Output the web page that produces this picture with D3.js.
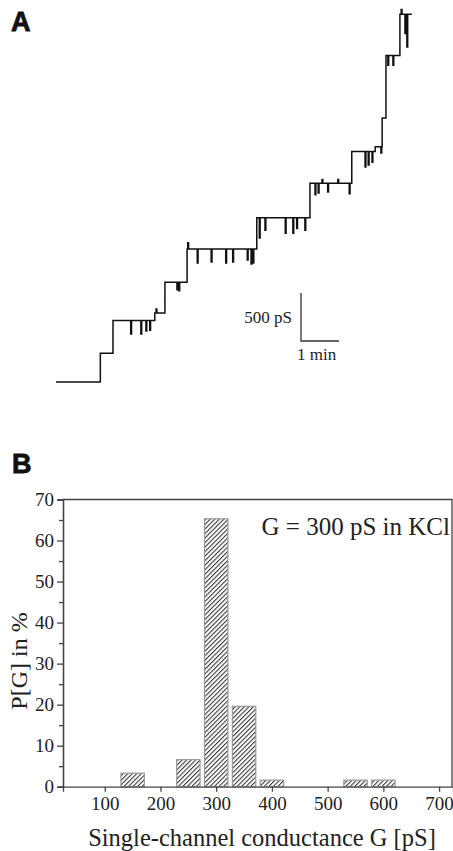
<!DOCTYPE html>
<html lang="en">
<head>
  <meta charset="utf-8">
  <title>Conductance steps and histogram</title>
  <script src="https://d3js.org/d3.v7.min.js"></script>
  <style>
    body { margin: 0; background: #fff; }
    svg text { font-family: "Liberation Serif", "Times New Roman", serif; fill: #222; }
    .panel-label { font-family: "Liberation Sans", Arial, sans-serif !important; font-weight: bold; }
  </style>
</head>
<body>
<div id="chart"></div>

<script>
// ---- panel A data: conductance trace (time in s, conductance in pS)
var stepTimes  = [0, 70, 90, 156, 172, 207, 317, 401, 467, 504, 515, 521, 543];
var stepLevels = [0, 300, 640, 720, 1040, 1385, 1710, 2070, 2400, 2450, 2750, 3400, 3830];
var traceEnd = 562;

// brief events (time in s, conductance reached in pS) - mostly closings, a few overshoots
var spikeTimes  = [118, 134, 142, 148, 158, 191, 194, 208, 223, 245, 268, 279, 302, 308, 311,
                   321, 330, 362, 374, 380, 393, 409, 414, 420, 429, 445, 463, 488, 493, 499,
                   513, 524, 532, 545, 551, 554];
var spikeBottom = [500, 500, 530, 540, 760, 960, 950, 1450, 1240, 1250, 1240, 1250, 1270, 1230, 1240,
                   1500, 1580, 1550, 1550, 1600, 1580, 1950, 1970, 2110, 1980, 2110, 1960, 2240, 2260, 2290,
                   2385, 3300, 3300, 3880, 3630, 3490];

// scale bar
var barPs = 500, barMin = 1;

// ---- panel B data: histogram of single-channel conductance
var binCenters = [150, 250, 300, 350, 400, 550, 600];
var binPercent = [3.3, 6.6, 65.3, 19.6, 1.6, 1.6, 1.6];
var xTicks = [100, 200, 300, 400, 500, 600, 700];
var yTicks = [0, 10, 20, 30, 40, 50, 60, 70];

var W = 453, H = 851;
var svg = d3.select("#chart").append("svg")
  .attr("width", W)
  .attr("height", H);

// ================= panel A =================
svg.append("text").attr("class", "panel-label")
  .attr("x", 11).attr("y", 31)
  .style("font-size", "27px")
  .style("fill", "#111")
  .style("stroke", "#111").style("stroke-width", 0.8)
  .text("A");

// 38 px per minute, 48 px per 500 pS
var tx = d3.scaleLinear().domain([0, 60]).range([56, 94]);
var gy = d3.scaleLinear().domain([0, 500]).range([382, 334]);

// build the trace point list from the steps and the brief events
var pts = [];
stepTimes.forEach(function(t0, i) {
  var lev = stepLevels[i];
  var t1 = i < stepTimes.length - 1 ? stepTimes[i + 1] : traceEnd;
  if (i > 0) pts.push([t0, stepLevels[i - 1]]);
  pts.push([t0, lev]);
  spikeTimes.forEach(function(ts, j) {
    if (ts >= t0 && ts < t1) {
      pts.push([ts, lev], [ts, spikeBottom[j]], [ts + 1.3, spikeBottom[j]], [ts + 1.3, lev]);
    }
  });
  if (i === stepTimes.length - 1) pts.push([t1, lev]);
});

var traceLine = d3.line()
  .x(function(d) { return tx(d[0]); })
  .y(function(d) { return gy(d[1]); });

svg.append("path")
  .datum(pts)
  .attr("d", traceLine)
  .attr("fill", "none")
  .attr("stroke", "#111")
  .attr("stroke-width", 1.5)
  .attr("stroke-linejoin", "miter");

// scale bar: 500 pS by 1 min
var sbX = 301, sbY = 341;
var sbW = tx(barMin * 60) - tx(0), sbH = gy(0) - gy(barPs);
svg.append("path")
  .attr("d", "M" + sbX + "," + (sbY - sbH) + "V" + sbY + "H" + (sbX + sbW))
  .attr("fill", "none")
  .attr("stroke", "#333")
  .attr("stroke-width", 1.3);
svg.append("text")
  .attr("x", sbX - 9).attr("y", sbY - 18)
  .attr("text-anchor", "end")
  .style("font-size", "17px")
  .text(barPs + " pS");
svg.append("text")
  .attr("x", sbX - 4).attr("y", sbY + 19)
  .style("font-size", "17px")
  .text(barMin + " min");

// ================= panel B =================
svg.append("text").attr("class", "panel-label")
  .attr("x", 12).attr("y", 473)
  .style("font-size", "27px")
  .style("fill", "#111")
  .style("stroke", "#111").style("stroke-width", 0.8)
  .text("B");

var x = d3.scaleLinear().domain([25, 725]).range([63, 453]);
var y = d3.scaleLinear().domain([0, 70]).range([786.7, 499.5]);

// hatch pattern for the bars
var defs = svg.append("defs");
var pat = defs.append("pattern")
  .attr("id", "hatch")
  .attr("patternUnits", "userSpaceOnUse")
  .attr("width", 3.2).attr("height", 3.2)
  .attr("patternTransform", "rotate(45)");
pat.append("rect").attr("width", 3.2).attr("height", 3.2).attr("fill", "#fff");
pat.append("line")
  .attr("x1", 0).attr("y1", 0).attr("x2", 0).attr("y2", 3.2)
  .attr("stroke", "#3a3a3a").attr("stroke-width", 2.2);

// frame (top and right)
svg.append("path")
  .attr("d", "M" + x(25) + "," + y(70) + "H" + (x(725) - 1) + "V" + y(0))
  .attr("fill", "none")
  .attr("stroke", "#444")
  .attr("stroke-width", 1.3);

// bars
var half = 21;
svg.selectAll("rect.bar")
  .data(binCenters)
  .enter()
  .append("rect")
    .attr("class", "bar")
    .attr("x", function(d) { return x(d - half); })
    .attr("width", function(d) { return x(d + half) - x(d - half); })
    .attr("y", function(d, i) { return y(binPercent[i]); })
    .attr("height", function(d, i) { return y(0) - y(binPercent[i]); })
    .attr("fill", "url(#hatch)")
    .attr("stroke", "#999")
    .attr("stroke-width", 1.2);

// x axis
var minorX = d3.range(50, 725, 50);
var xAxis = svg.append("g")
  .attr("transform", "translate(0," + y(0) + ")")
  .call(d3.axisBottom(x).tickValues(minorX).tickSize(4).tickFormat(""));
xAxis.call(d3.axisBottom(x).tickValues(xTicks).tickSize(5).tickPadding(5));
xAxis.selectAll("text").style("font-size", "19px").style("fill", "#222")
  .style("font-family", "Liberation Serif");
xAxis.selectAll("path, line").attr("stroke", "#444").attr("stroke-width", 1.3);

// y axis
var minorY = d3.range(5, 70, 10);
var yAxisG = svg.append("g")
  .attr("transform", "translate(" + x(25) + ",0)");
yAxisG.append("g").call(d3.axisLeft(y).tickValues(minorY).tickSize(4).tickFormat(""));
yAxisG.append("g").call(d3.axisLeft(y).tickValues(yTicks).tickSize(6).tickPadding(3));
yAxisG.selectAll("text").style("font-size", "19px").style("fill", "#222")
  .style("font-family", "Liberation Serif");
yAxisG.selectAll("path, line").attr("stroke", "#444").attr("stroke-width", 1.3);

// annotation
svg.append("text")
  .attr("x", 450).attr("y", 535)
  .attr("text-anchor", "end")
  .style("font-size", "25px")
  .text("G = 300 pS in KCl");

// axis titles
svg.append("text")
  .attr("transform", "translate(27,661) rotate(-90)")
  .attr("text-anchor", "middle")
  .style("font-size", "24px")
  .text("P[G] in %");

svg.append("text")
  .attr("x", 262).attr("y", 846)
  .attr("text-anchor", "middle")
  .style("font-size", "24.5px")
  .text("Single-channel conductance G [pS]");
</script>
</body>
</html>
